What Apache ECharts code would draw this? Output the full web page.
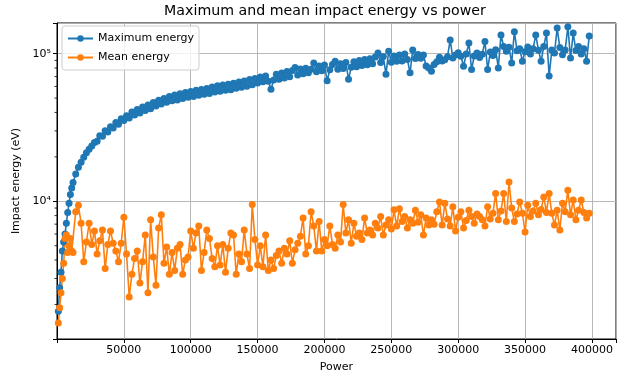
<!DOCTYPE html>
<html>
<head>
<meta charset="utf-8">
<script src="https://cdn.jsdelivr.net/npm/echarts@6/dist/echarts.min.js"></script>
<style>
  html, body { margin: 0; padding: 0; background: #fff; }
  #chart { width: 624px; height: 378px; }
</style>
</head>
<body>
<div id="chart"></div>
<script>
// power levels, in thousands
var powerK = [
    1, 2, 3, 4, 5, 6, 7, 8, 9, 10,
    11, 12, 14, 16, 18, 20, 22, 24, 26, 28,
    30, 32, 34, 36, 38, 40, 42, 44, 46, 48,
    50, 52, 54, 56, 58, 60, 62, 64, 66, 68,
    70, 72, 74, 76, 78, 80, 82, 84, 86, 88,
    90, 92, 94, 96, 98, 100, 102, 104, 106, 108,
    110, 112, 114, 116, 118, 120, 122, 124, 126, 128,
    130, 132, 134, 136, 138, 140, 142, 144, 146, 148,
    150, 152, 154, 156, 158, 160, 162, 164, 166, 168,
    170, 172, 174, 176, 178, 180, 182, 184, 186, 188,
    190, 192, 194, 196, 198, 200, 202, 204, 206, 208,
    210, 212, 214, 216, 218, 220, 222, 224, 226, 228,
    230, 232, 234, 236, 238, 240, 242, 244, 246, 248,
    250, 252, 254, 256, 258, 260, 262, 264, 266, 268,
    270, 272, 274, 276, 278, 280, 282, 284, 286, 288,
    290, 292, 294, 296, 298, 300, 302, 304, 306, 308,
    310, 312, 314, 316, 318, 320, 322, 324, 326, 328,
    330, 332, 334, 336, 338, 340, 342, 344, 346, 348,
    350, 352, 354, 356, 358, 360, 362, 364, 366, 368,
    370, 372, 374, 376, 378, 380, 382, 384, 386, 388,
    390, 392, 394, 396, 398
];

var maxEnergy = [
    1800, 2600, 3300, 4600, 5300, 6000, 7100, 8400, 9700, 11100,
    12300, 13400, 15300, 17000, 18400, 19900, 21300, 22500, 23700, 25000,
    25500, 27800, 27600, 30000, 29500, 32000, 31400, 34200, 33300, 36200,
    35300, 38000, 36700, 40200, 38500, 41900, 39700, 43600, 41200, 44900,
    42300, 46700, 44200, 48300, 45600, 49800, 46900, 51300, 48000, 52400,
    48600, 53500, 49800, 54600, 50700, 55400, 51300, 56500, 52200, 57300,
    53100, 58200, 53800, 59500, 55000, 60600, 55600, 61300, 56500, 62100,
    57000, 63000, 58400, 64300, 59200, 65400, 60100, 66900, 61500, 67800,
    63200, 69400, 64500, 70500, 65100, 57500, 66300, 72600, 67200, 74100,
    68400, 75600, 69900, 76800, 80500, 71800, 78700, 73200, 79800, 74400,
    78500, 86500, 75400, 82600, 76600, 83800, 65500, 77900, 84500, 89000,
    78300, 85600, 79400, 87100, 67000, 80800, 88200, 81700, 89900, 83100,
    91200, 84100, 92300, 85400, 94800, 101000, 87300, 95600, 72500, 104000,
    87500, 96300, 88900, 98100, 89200, 99600, 91400, 74200, 106000, 92600,
    98800, 93100, 97900, 82500, 80100, 76000, 84500, 88200, 94600, 89300,
    91000, 95500, 124000, 93400, 97800, 101500, 96200, 82200, 99500, 118000,
    78100, 96500, 101000, 94200, 99300, 121000, 78100, 102500, 97300, 106500,
    80100, 134000, 112000, 104000, 110500, 86600, 141000, 104500, 108000, 89000,
    103000, 111000, 99500, 108000, 134000, 105500, 89000, 112000, 138000, 70500,
    106000, 101000, 149000, 110000, 98500, 106000, 152000, 93500, 138000, 105000,
    112000, 99500, 108000, 89000, 132000
];

var meanEnergy = [
    1500, 1900, 2400, 3000, 3800, 5600, 5900, 4500, 5000, 5600,
    4600, 4500, 8500, 9400, 7100, 3900, 5300, 7100, 5100, 6300,
    4400, 5400, 6400, 3500, 5100, 6300, 5200, 4600, 3900, 5200,
    7800, 4400, 2250, 3200, 4100, 4600, 2800, 3900, 5900, 2400,
    7500, 4200, 2700, 6600, 8100, 3800, 4900, 3200, 4500, 3400,
    4800, 5100, 3200, 4000, 4200, 6300, 4800, 6100, 6800, 3400,
    4500, 6400, 5600, 4100, 3600, 5000, 3700, 5100, 3300, 4800,
    6100, 5900, 3200, 4400, 3900, 6400, 4400, 3500, 9500, 5500,
    3700, 5000, 3600, 5900, 3400, 4000, 3500, 4300, 4600, 3800,
    4800, 4400, 5400, 3800, 4700, 5200, 5800, 7700, 4400, 5000,
    8500, 6800, 4600, 7300, 4600, 5500, 5000, 6800, 5100, 4800,
    5900, 5300, 9500, 6100, 7500, 5200, 7100, 5800, 6100, 5500,
    7700, 6100, 6400, 5900, 7100, 6600, 7900, 5900, 6900, 7500,
    6500, 8750, 6800, 8900, 7300, 7900, 6600, 7500, 7100, 8700,
    7200, 8100, 5900, 7700, 6900, 7500, 7000, 8500, 9900, 6900,
    9700, 7600, 6800, 9200, 6300, 7800, 8500, 6600, 7400, 8700,
    7900, 7100, 8200, 7900, 7500, 6800, 9200, 7600, 8300, 11300,
    7500, 8600, 11300, 7300, 13500, 9000, 7300, 8200, 9900, 8300,
    6200, 9400, 7900, 8600, 9700, 8100, 8800, 10700, 8400, 11300,
    8300, 6900, 8700, 6400, 9700, 8500, 11900, 8100, 10200, 7500,
    8700, 10200, 8400, 7700, 8300
];

var seriesNames = ['Maximum energy', 'Mean energy'];
var yTickValues = [10000, 100000];
var yTickLabels = ['10\u2074', '10\u2075'];

var FONT = 'DejaVu Sans';

function toPairs(vals) {
    return powerK.map(function (p, i) { return [p * 1000, vals[i]]; });
}

function lineSeries(name, vals, color) {
    return {
        name: name,
        type: 'line',
        data: toPairs(vals),
        symbol: 'circle',
        symbolSize: 7,
        showAllSymbol: true,
        color: color,
        itemStyle: { color: color },
        lineStyle: { color: color, width: 1.6 },
        emphasis: { disabled: true },
        animation: false
    };
}

var chart = echarts.init(document.getElementById('chart'));
chart.setOption({
    animation: false,
    textStyle: { fontFamily: FONT },
    title: {
        text: 'Maximum and mean impact energy vs power',
        left: 325,
        top: 4,
        padding: 0,
        textAlign: 'center',
        textStyle: { fontFamily: FONT, fontSize: 14.2, fontWeight: 'normal', color: '#000' }
    },
    legend: {
        data: seriesNames,
        orient: 'vertical',
        left: 62,
        top: 26,
        itemWidth: 25,
        itemHeight: 8,
        itemGap: 6,
        padding: [6, 5, 6, 5],
        backgroundColor: 'rgba(255,255,255,0.8)',
        borderColor: '#cccccc',
        borderWidth: 1,
        borderRadius: 3,
        textStyle: { fontFamily: FONT, fontSize: 11, color: '#000', lineHeight: 13 }
    },
    grid: {
        left: 57,
        right: 8,
        top: 23,
        bottom: 36,
        show: true,
        borderColor: '#000',
        borderWidth: 1,
        containLabel: false
    },
    xAxis: {
        type: 'value',
        min: 0,
        max: 418000,
        interval: 50000,
        name: 'Power',
        nameLocation: 'middle',
        nameGap: 23,
        nameTextStyle: { fontFamily: FONT, fontSize: 11, color: '#000' },
        axisLine: { show: true, onZero: false, lineStyle: { color: '#000', width: 1 } },
        axisTick: { show: true, length: 4, lineStyle: { color: '#000', width: 1 } },
        axisLabel: {
            color: '#000', fontSize: 11, fontFamily: FONT, margin: 6,
            formatter: function (v) {
                return (v === 0 || v % 50000 !== 0) ? '' : String(v);
            }
        },
        splitLine: { show: true, lineStyle: { color: '#b0b0b0', width: 0.9 } }
    },
    yAxis: {
        type: 'log',
        logBase: 10,
        min: 1167,
        max: 161400,
        name: 'Impact energy (eV)',
        nameLocation: 'middle',
        nameGap: 29,
        nameTextStyle: { fontFamily: FONT, fontSize: 11, color: '#000' },
        axisLine: { show: true, lineStyle: { color: '#000', width: 1 } },
        axisTick: { show: true, length: 4, lineStyle: { color: '#000', width: 1 } },
        axisLabel: {
            color: '#000', fontSize: 11, fontFamily: FONT, margin: 6,
            formatter: function (v) {
                for (var i = 0; i < yTickValues.length; i++) {
                    if (Math.abs(v - yTickValues[i]) / yTickValues[i] < 1e-6) return yTickLabels[i];
                }
                return '';
            }
        },
        splitLine: { show: true, lineStyle: { color: '#b0b0b0', width: 0.9 } }
    },
    series: [
        lineSeries(seriesNames[0], maxEnergy, '#1f77b4'),
        lineSeries(seriesNames[1], meanEnergy, '#ff7f0e')
    ]
});

// log minor ticks (2..9 x 10^k) like matplotlib
var minorTicks = [];
var axisX = chart.convertToPixel({ xAxisIndex: 0 }, 0);
[1000, 10000, 100000].forEach(function (decade) {
    for (var m = 2; m <= 9; m++) {
        var v = m * decade;
        if (v < 1167 || v > 161400) continue;
        var py = chart.convertToPixel({ yAxisIndex: 0 }, v);
        minorTicks.push({
            type: 'line',
            silent: true,
            shape: { x1: axisX - 2.5, y1: py, x2: axisX, y2: py },
            style: { stroke: '#000', lineWidth: 0.8 }
        });
    }
});
chart.setOption({ graphic: minorTicks });
</script>
</body>
</html>
